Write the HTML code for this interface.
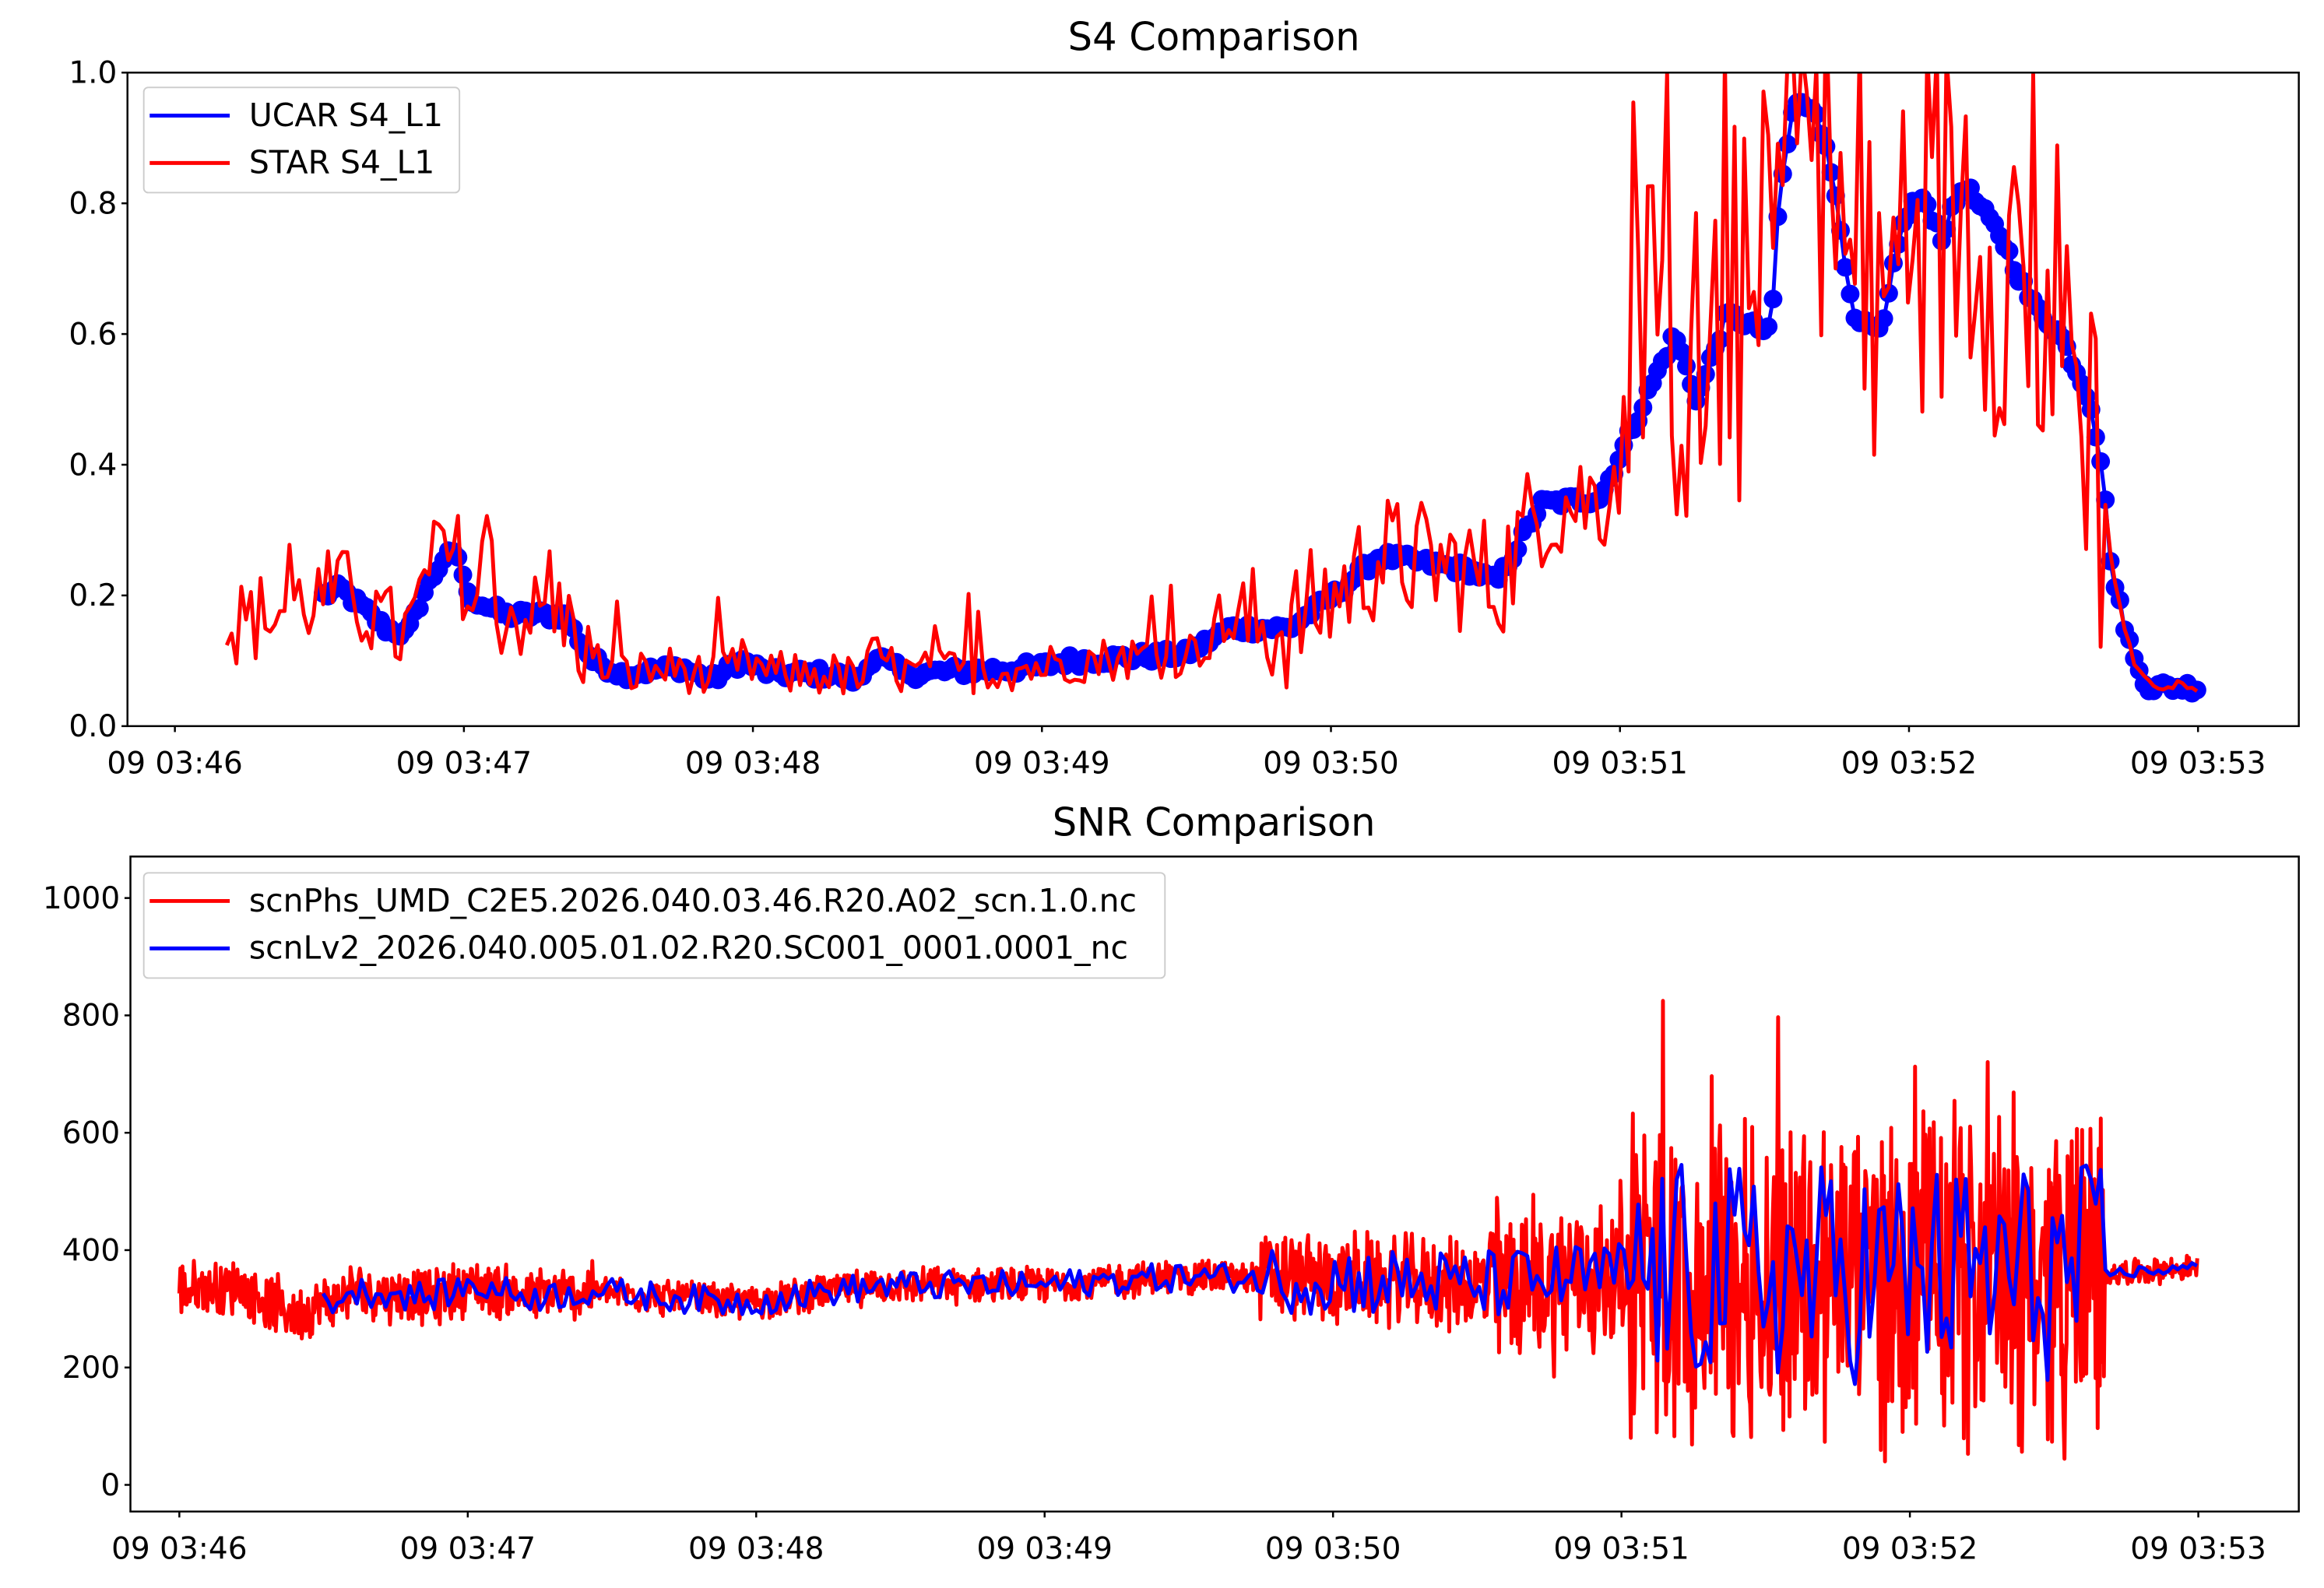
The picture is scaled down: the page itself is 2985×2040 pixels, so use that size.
<!DOCTYPE html>
<html><head><meta charset="utf-8"><style>
html,body{margin:0;padding:0;background:#fff;}
svg{display:block;}
text{font-family:"DejaVu Sans","Liberation Sans",sans-serif;fill:#000;}
</style></head><body>
<svg id="s" width="2985" height="2040" viewBox="0 0 1568 1071.6" xmlns="http://www.w3.org/2000/svg">
<rect width="1568" height="1072" fill="#fff"/>
<defs>
<clipPath id="c1"><rect x="86" y="49" width="1465" height="441"/></clipPath>
<clipPath id="c2"><rect x="88" y="578" width="1463" height="442"/></clipPath>
</defs>
<g id="p1" clip-path="url(#c1)"></g>
<g id="p2" clip-path="url(#c2)"></g>
<text x="819" y="34" font-size="26" text-anchor="middle">S4 Comparison</text>
<text x="819" y="564" font-size="26" text-anchor="middle">SNR Comparison</text>
<rect x="86" y="49" width="1465" height="441" fill="none" stroke="#000" stroke-width="1.3"/>
<rect x="88" y="578" width="1463" height="442" fill="none" stroke="#000" stroke-width="1.3"/>
<g id="ax" font-size="20.5"></g>
<g>
<rect x="97" y="59" width="213" height="71" rx="3" fill="#fff" fill-opacity="0.8" stroke="#ccc" stroke-width="1"/>
<line x1="101" y1="78" x2="155" y2="78" stroke="#00f" stroke-width="2.6"/>
<text x="168" y="85" font-size="21.5">UCAR S4_L1</text>
<line x1="101" y1="110" x2="155" y2="110" stroke="#f00" stroke-width="2.6"/>
<text x="168" y="117" font-size="21.5">STAR S4_L1</text>
<rect x="97" y="589" width="689" height="71" rx="3" fill="#fff" fill-opacity="0.8" stroke="#ccc" stroke-width="1"/>
<line x1="101" y1="608" x2="155" y2="608" stroke="#f00" stroke-width="2.6"/>
<text x="168" y="615" font-size="21.5">scnPhs_UMD_C2E5.2026.040.03.46.R20.A02_scn.1.0.nc</text>
<line x1="101" y1="640" x2="155" y2="640" stroke="#00f" stroke-width="2.6"/>
<text x="168" y="647" font-size="21.5">scnLv2_2026.040.005.01.02.R20.SC001_0001.0001_nc</text>
</g>
</svg>
<script>
var NS="http://www.w3.org/2000/svg";
function el(p,t,a,txt){var e=document.createElementNS(NS,t);for(var k in a)e.setAttribute(k,a[k]);if(txt!=null)e.textContent=txt;document.getElementById(p).appendChild(e);return e;}
var ax="ax";
var labs=["09 03:46","09 03:47","09 03:48","09 03:49","09 03:50","09 03:51","09 03:52","09 03:53"];
for(var i=0;i<=5;i++){var v=i*0.2,y=490-v*441;el(ax,"line",{x1:82,y1:y,x2:86,y2:y,stroke:"#000","stroke-width":1.3});el(ax,"text",{x:79,y:y+7,"text-anchor":"end"},v.toFixed(1));}
for(var i=0;i<=5;i++){var v=i*200,y=1002-v*0.396;el(ax,"line",{x1:84,y1:y,x2:88,y2:y,stroke:"#000","stroke-width":1.3});el(ax,"text",{x:81,y:y+7,"text-anchor":"end"},String(v));}
for(var m=0;m<=7;m++){var x=118+m*195;el(ax,"line",{x1:x,y1:490,x2:x,y2:494,stroke:"#000","stroke-width":1.3});el(ax,"text",{x:x,y:522,"text-anchor":"middle"},labs[m]);}
for(var m=0;m<=7;m++){var x=121+m*194.6;el(ax,"line",{x1:x,y1:1020,x2:x,y2:1024,stroke:"#000","stroke-width":1.3});el(ax,"text",{x:x,y:1052,"text-anchor":"middle"},labs[m]);}
var sd=12345;function R(){sd=(sd*1103515245+12345)%2147483648;return sd/2147483648;}
function interp(pts,x){if(x<=pts[0][0])return pts[0][1];for(var i=1;i<pts.length;i++){if(x<=pts[i][0]){var a=pts[i-1],b=pts[i];return a[1]+(b[1]-a[1])*(x-a[0])/(b[0]-a[0]);}}return pts[pts.length-1][1];}
var B=[[153,0.15],[218,0.2],[230,0.21],[260,0.15],[275,0.14],[285,0.2],[300,0.26],[310,0.26],[315,0.2],[340,0.17],[380,0.17],[400,0.1],[420,0.08],[460,0.09],[480,0.07],[500,0.1],[520,0.08],[560,0.08],[580,0.07],[590,0.11],[610,0.08],[700,0.09],[720,0.1],[800,0.11],[830,0.15],[870,0.15],[900,0.2],[930,0.26],[960,0.25],[990,0.24],[1010,0.22],[1040,0.34],[1080,0.35],[1110,0.5],[1130,0.6],[1145,0.5],[1165,0.63],[1195,0.6],[1200,0.8],[1210,0.95],[1225,0.95],[1240,0.8],[1250,0.62],[1270,0.6],[1280,0.74],[1290,0.8],[1300,0.8],[1310,0.75],[1325,0.83],[1340,0.78],[1350,0.75],[1370,0.65],[1390,0.6],[1410,0.5],[1418,0.4],[1425,0.23],[1440,0.1],[1450,0.06],[1483,0.06]];
function Y1(v){return 490-Math.max(-0.05,Math.min(1.1,v))*441;}
var bp=[],cs="";
for(var x=218;x<=1483;x+=3.25){var v=interp(B,x)+(R()-0.5)*0.02;bp.push(x.toFixed(1)+","+Y1(v).toFixed(1));cs+='<circle cx="'+x.toFixed(1)+'" cy="'+Y1(v).toFixed(1)+'" r="6.3"/>';}
el("p1","polyline",{points:bp.join(" "),fill:"none",stroke:"#00f","stroke-width":2.6});
var g=el("p1","g",{fill:"#00f"});g.innerHTML=cs;
var rp=[];
for(var x=153;x<=1483;x+=3.25){var b=interp(B,x);var amp=x<400?0.07:(x<830?0.035:(x<1100?0.1:(x<1420?0.32:0.01)));var v=b+(R()-0.5)*2*amp;if(x>1100&&x<1420&&R()<0.08)v=0.95+R()*0.1;if(x<830&&R()<0.04)v+=0.09;rp.push(x.toFixed(1)+","+Y1(Math.max(0.05,v)).toFixed(1));}
el("p1","polyline",{points:rp.join(" "),fill:"none",stroke:"#f00","stroke-width":2.6,"stroke-linejoin":"round"});
var S=[[121,330],[160,340],[200,290],[240,330],[290,320],[320,340],[360,320],[400,330],[450,320],[500,310],[560,330],[600,340],[700,340],[800,355],[900,350],[1000,340],[1100,360],[1300,360],[1420,360],[1483,370]];
function Y2(v){return 1002-v*0.396;}
var sp=[];
for(var x=121;x<=1483;x+=0.7){var b=interp(S,x);var amp=x<400?55:(x<850?35:(x<1000?90:(x<1100?170:(x<1420?330:25))));var v=b+(R()-0.5)*2*amp*(0.5+R()*0.5);if(x>1100&&x<1420&&R()<0.012)v=b+250+R()*400;v=Math.max(5,v);sp.push(x.toFixed(1)+","+Y2(v).toFixed(1));}
el("p2","polyline",{points:sp.join(" "),fill:"none",stroke:"#f00","stroke-width":2.6,"stroke-linejoin":"round"});
var bl=[];
for(var x=218;x<=1483;x+=3.25){var b=interp(S,x);var amp=x<850?25:(x<1100?60:(x<1420?190:10));var v=b+(R()-0.5)*2*amp;bl.push(x.toFixed(1)+","+Y2(v).toFixed(1));}
el("p2","polyline",{points:bl.join(" "),fill:"none",stroke:"#00f","stroke-width":2.6,"stroke-linejoin":"round"});
</script>
</body></html>
